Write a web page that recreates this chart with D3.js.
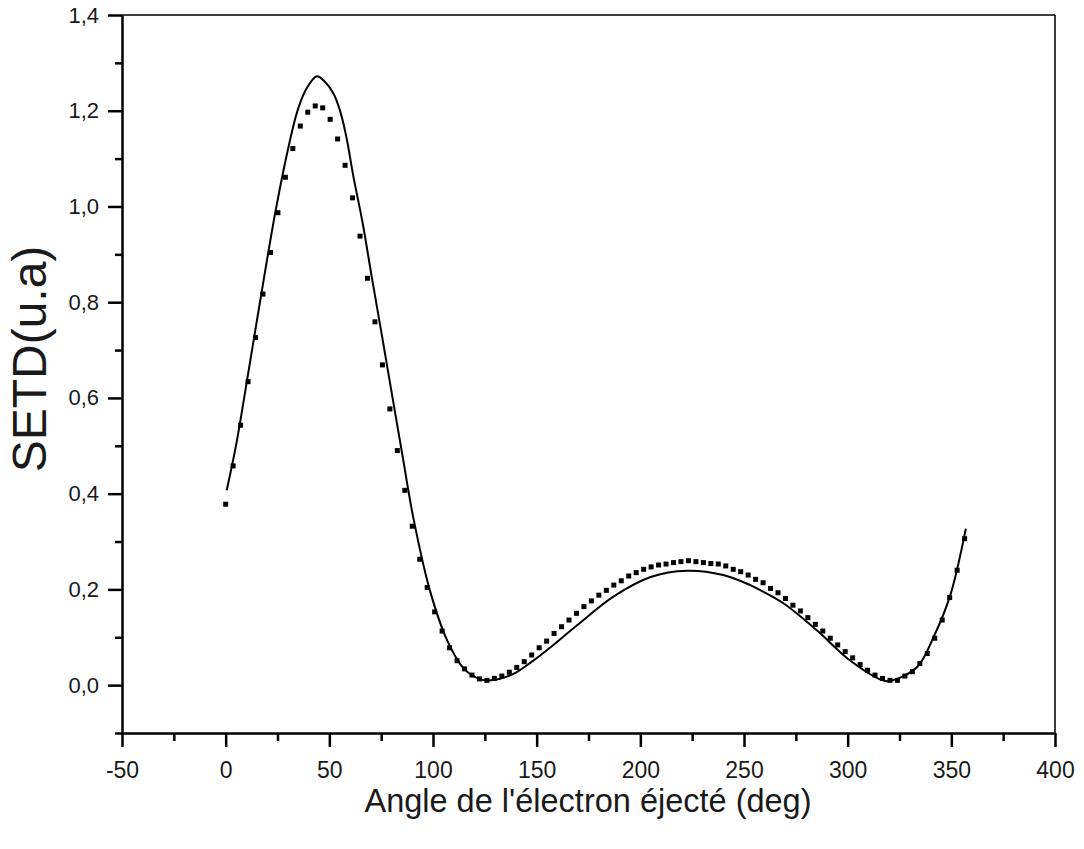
<!DOCTYPE html>
<html>
<head>
<meta charset="utf-8">
<script src="https://cdn.jsdelivr.net/npm/d3@7"></script>
<style>
  html, body { margin: 0; padding: 0; background: #fff; }
  svg { display: block; }
  text { font-family: "Liberation Sans", Arial, sans-serif; }
</style>
</head>
<body>
<svg id="chart" width="1084" height="849"></svg>
<script>
// ---- Data ----
const pointAngles = [
  0, 3.6, 7.2, 10.8, 14.4, 18, 21.6, 25.2, 28.8, 32.4,
  36, 39.6, 43.2, 46.8, 50.4, 54, 57.6, 61.2, 64.8, 68.4,
  72, 75.6, 79.2, 82.8, 86.4, 90, 93.6, 97.2, 100.8, 104.4,
  108, 111.6, 115.2, 118.8, 122.4, 126, 129.6, 133.2, 136.8, 140.4,
  144, 147.6, 151.2, 154.8, 158.4, 162, 165.6, 169.2, 172.8, 176.4,
  180, 183.6, 187.2, 190.8, 194.4, 198, 201.6, 205.2, 208.8, 212.4,
  216, 219.6, 223.2, 226.8, 230.4, 234, 237.6, 241.2, 244.8, 248.4,
  252, 255.6, 259.2, 262.8, 266.4, 270, 273.6, 277.2, 280.8, 284.4,
  288, 291.6, 295.2, 298.8, 302.4, 306, 309.6, 313.2, 316.8, 320.4,
  324, 327.6, 331.2, 334.8, 338.4, 342, 345.6, 349.2, 352.8, 356.4
];
const pointValues = [
  0.378, 0.458, 0.543, 0.634, 0.726, 0.817, 0.904, 0.987, 1.061, 1.121,
  1.168, 1.197, 1.210, 1.206, 1.182, 1.141, 1.086, 1.018, 0.938, 0.850,
  0.759, 0.669, 0.577, 0.490, 0.407, 0.332, 0.263, 0.204, 0.153, 0.113,
  0.078, 0.051, 0.034, 0.021, 0.013, 0.010, 0.014, 0.019, 0.027, 0.037,
  0.049, 0.063, 0.078, 0.092, 0.108, 0.122, 0.136, 0.150, 0.164, 0.176,
  0.188, 0.198, 0.209, 0.218, 0.228, 0.235, 0.242, 0.247, 0.251, 0.253,
  0.256, 0.258, 0.260, 0.258, 0.256, 0.254, 0.253, 0.249, 0.242, 0.237,
  0.230, 0.221, 0.214, 0.202, 0.193, 0.181, 0.167, 0.155, 0.141, 0.127,
  0.113, 0.098, 0.084, 0.070, 0.057, 0.043, 0.031, 0.021, 0.014, 0.010,
  0.010, 0.019, 0.028, 0.045, 0.066, 0.098, 0.136, 0.183, 0.240, 0.306
];
const lineAngles = [
  0.5, 5, 11, 17.5, 24, 30.5, 35, 39.5, 44, 47.5,
  52, 55.5, 58.5, 61.5, 66, 70.5, 75.5, 80.5, 85.5, 90.5,
  98.5, 107, 115, 123, 128, 139, 147, 152, 157, 169.5,
  187, 205, 222.5, 240, 253, 258, 269, 285, 301, 317,
  321, 333.5, 341.5, 349.5, 357
];
const lineValues = [
  0.407, 0.501, 0.655, 0.825, 0.989, 1.128, 1.205, 1.250, 1.272, 1.262,
  1.236, 1.195, 1.139, 1.065, 0.967, 0.852, 0.727, 0.600, 0.474, 0.350,
  0.198, 0.092, 0.034, 0.012, 0.010, 0.024, 0.047, 0.063, 0.080, 0.125,
  0.185, 0.226, 0.239, 0.230, 0.209, 0.198, 0.171, 0.115, 0.052, 0.010,
  0.009, 0.038, 0.101, 0.188, 0.327
];
const xTicks = [-50, 0, 50, 100, 150, 200, 250, 300, 350, 400];
const yTicks = [0.0, 0.2, 0.4, 0.6, 0.8, 1.0, 1.2, 1.4];
const xTitle = "Angle de l'électron éjecté (deg)";
const yTitle = "SETD(u.a)";

// ---- Layout ----
const L = 122, R = 1055, T = 15, B = 733;
const svg = d3.select("#chart");
const x = d3.scaleLinear().domain([-50, 400]).range([L, R]);
const y = d3.scaleLinear().domain([-0.1, 1.4]).range([B, T]);
const fmtY = v => d3.format(".1f")(v).replace(".", ",");
const fmtX = v => String(v);

// frame (top/right thin)
svg.append("line").attr("x1", L).attr("x2", R).attr("y1", T).attr("y2", T)
  .attr("stroke", "#000").attr("stroke-width", 1.5);
svg.append("line").attr("x1", R).attr("x2", R).attr("y1", T).attr("y2", B)
  .attr("stroke", "#000").attr("stroke-width", 1.5);

// minor ticks
const xMinor = d3.range(-25, 401, 50);
const yMinor = [-0.1, 0.1, 0.3, 0.5, 0.7, 0.9, 1.1, 1.3];

const gx = svg.append("g").attr("transform", `translate(0,${B})`);
gx.call(d3.axisBottom(x).tickValues(xTicks).tickSize(14).tickPadding(15).tickSizeOuter(0).tickFormat(fmtX));
const gxm = svg.append("g").attr("transform", `translate(0,${B})`);
gxm.call(d3.axisBottom(x).tickValues(xMinor).tickSize(8).tickFormat("").tickSizeOuter(0));
gxm.select(".domain").remove();

const gy = svg.append("g").attr("transform", `translate(${L},0)`);
gy.call(d3.axisLeft(y).tickValues(yTicks).tickSize(14).tickPadding(9).tickSizeOuter(0).tickFormat(fmtY));
const gym = svg.append("g").attr("transform", `translate(${L},0)`);
gym.call(d3.axisLeft(y).tickValues(yMinor).tickSize(7).tickFormat("").tickSizeOuter(0));
gym.select(".domain").remove();

[gx, gy, gxm, gym].forEach(g => {
  g.selectAll(".domain").attr("stroke", "#000").attr("stroke-width", 2.5);
  g.selectAll(".tick line").attr("stroke", "#000").attr("stroke-width", 2.5);
  g.selectAll(".tick text").attr("fill", "#1a1a1a")
    .style("font-family", "'Liberation Sans', Arial, sans-serif");
});
gx.selectAll(".tick text").style("font-size", "23px");
gy.selectAll(".tick text").style("font-size", "22px");

// line
const lineData = lineAngles.map((a, i) => [a, lineValues[i]]);
svg.append("path").datum(lineData)
  .attr("fill", "none").attr("stroke", "#000").attr("stroke-width", 2)
  .attr("d", d3.line().x(d => x(d[0])).y(d => y(d[1])).curve(d3.curveCatmullRom.alpha(0.5)));

// points
const pts = pointAngles.map((a, i) => [a, pointValues[i]]);
const s = 5;
svg.append("g").selectAll("rect").data(pts).join("rect")
  .attr("x", d => x(d[0]) - s / 2).attr("y", d => y(d[1]) - s / 2)
  .attr("width", s).attr("height", s).attr("fill", "#000");

// titles
svg.append("text").attr("x", 588).attr("y", 812)
  .attr("text-anchor", "middle").style("font-size", "32.5px").attr("fill", "#1a1a1a")
  .text(xTitle);
svg.append("text").attr("transform", `translate(46,359) rotate(-90)`)
  .attr("text-anchor", "middle").style("font-size", "48px").attr("fill", "#1a1a1a")
  .text(yTitle);
</script>
</body>
</html>
